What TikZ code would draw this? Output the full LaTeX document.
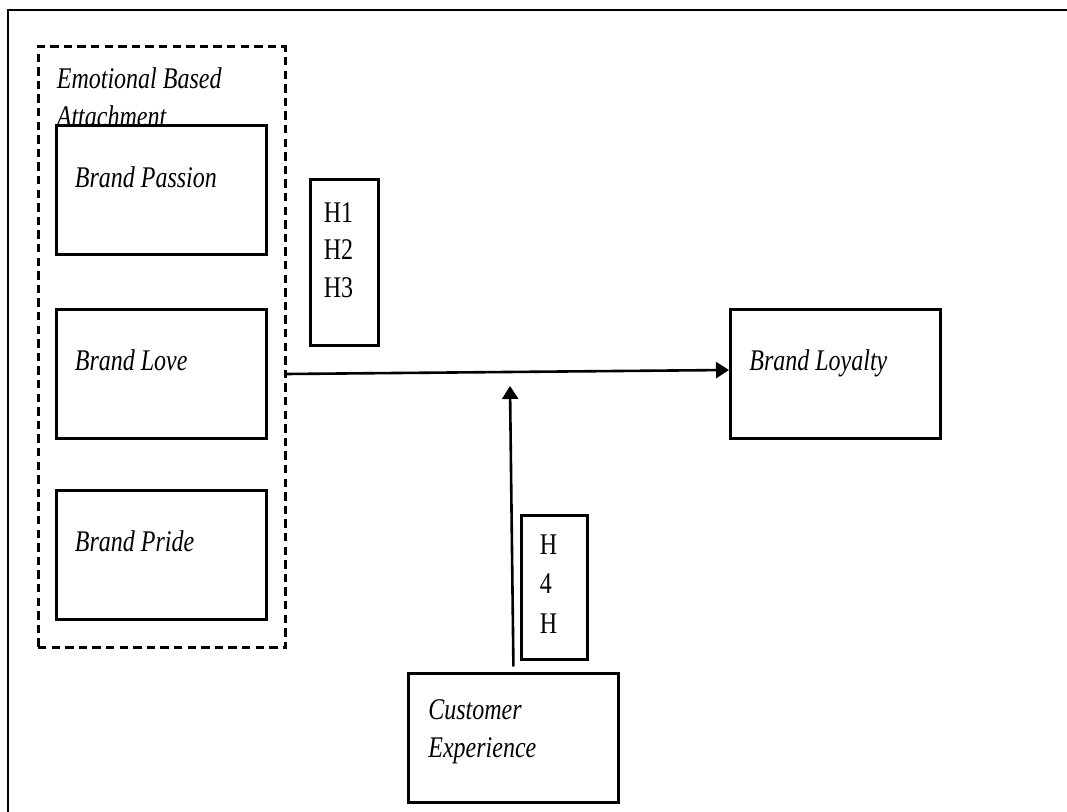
\documentclass[tikz,border=0pt]{standalone}
\usepackage{fontspec}
\setmainfont{Liberation Serif}[FakeStretch=0.8]
\usetikzlibrary{arrows.meta,positioning,calc}

\begin{document}
\begin{tikzpicture}[
  x=0.5pt, y=-0.5pt,
  blk/.style={draw, line width=1.5pt, minimum width=105pt, minimum height=64.5pt, inner sep=0pt},
  hyp/.style={draw, line width=1.5pt, inner sep=0pt},
  grp/.style={draw, line width=1.5pt, dash pattern=on 4.2pt off 2.6pt, inner sep=0pt},
  lbl/.style={font=\fontsize{15}{18.75}\selectfont\itshape, inner sep=0pt, anchor=base west, align=left},
  hlbl/.style={font=\fontsize{15}{18.75}\selectfont, inner sep=0pt, anchor=base west, align=left},
  arr/.style={-{Triangle[length=6.5pt,width=8pt]}, line width=1.3pt}
]
  \useasboundingbox (0,0) rectangle (1067,812);
  % outer frame (top and left only)
  \draw[line width=1pt] (8,812) -- (8,10) -- (1067,10);

  % attachment group
  \node[grp, minimum width=123.5pt, minimum height=300.5pt] (emo) at (161.5,347.5) {};
  \node[lbl] (emotxt) at ([shift={(20,81)}]emo.north west) {Emotional Based\\Attachment};

  % constructs
  \node[blk] (passion) at (161,190.5) {};
  \node[blk] (love)    at (161,374) {};
  \node[blk] (pride)   at (161,555) {};
  \node[blk] (loyalty) at (835.5,374) {};
  \node[blk] (cx)      at (513.5,738.5) {};

  \node[lbl] (passiontxt) at ([shift={(20,63)}]passion.north west) {Brand Passion};
  \node[lbl] (lovetxt)    at ([shift={(20,63)}]love.north west) {Brand Love};
  \node[lbl] (pridetxt)   at ([shift={(20,63)}]pride.north west) {Brand Pride};
  \node[lbl] (loyaltytxt) at ([shift={(20,63)}]loyalty.north west) {Brand Loyalty};
  \node[lbl] (cxtxt)      at ([shift={(21,85)}]cx.north west) {Customer\\Experience};

  % hypotheses
  \node[hyp, minimum width=34pt, minimum height=83pt] (hone) at (344,263) {};
  \node[hlbl] (honetxt) at ([shift={(15,119)}]hone.north west) {H1\\H2\\H3};
  \node[hyp, minimum width=33pt, minimum height=72pt] (hfour) at (554,588) {};
  \node[hlbl] (hfourtxt) at ([shift={(20,119)}]hfour.north west) {H\\[1pt]4\\[1pt]H};

  % paths
  \coordinate (meet) at (510,386);
  \draw[arr] (emo.east |- love.east) -- ([yshift=2pt]loyalty.west);
  \draw[arr, shorten <=3pt] (cx.north) -- (meet);
\end{tikzpicture}
\end{document}
